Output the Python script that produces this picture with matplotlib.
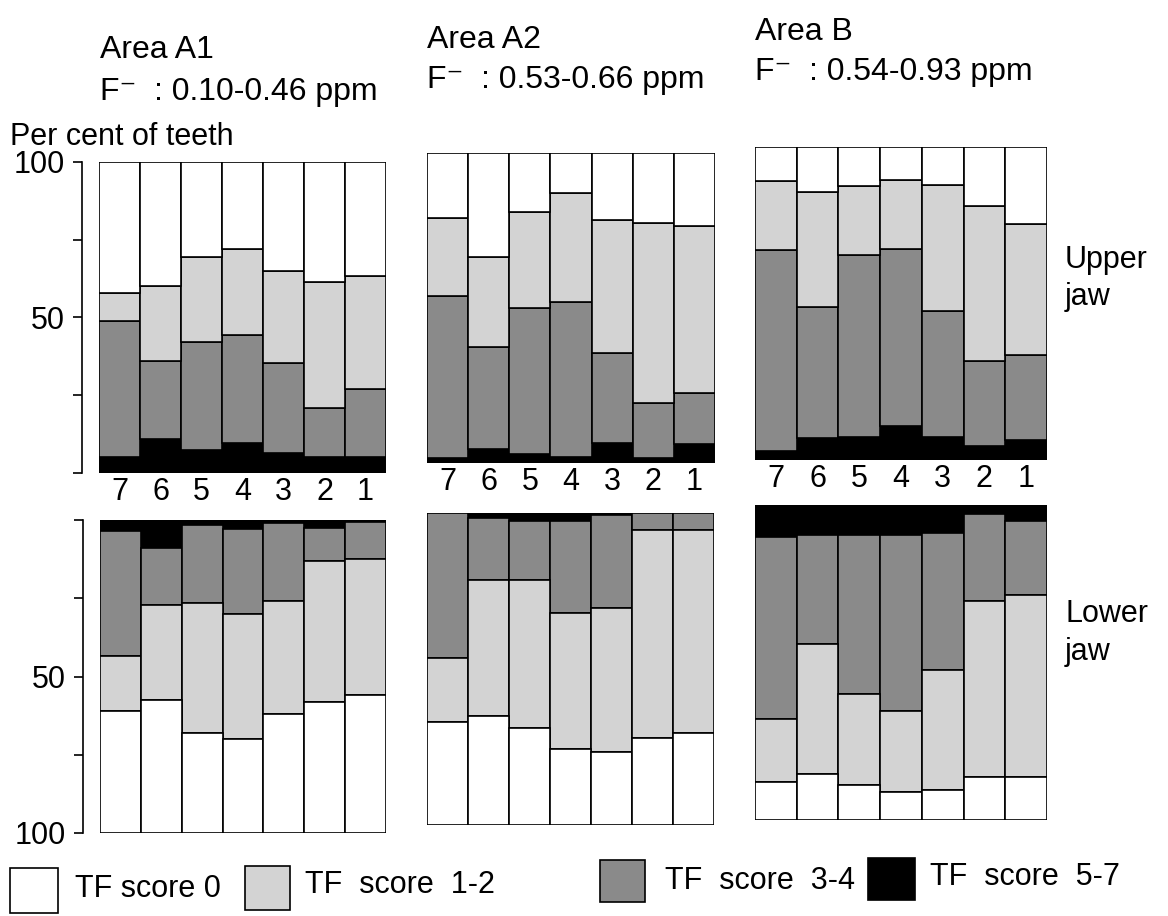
import matplotlib
matplotlib.use("Agg")
import matplotlib.pyplot as plt
from matplotlib.patches import Rectangle

plt.rcParams['font.family'] = ['Liberation Sans', 'DejaVu Sans']

W, H = 1168, 916

teeth = ['7', '6', '5', '4', '3', '2', '1']
categories = ['TF score 0', 'TF  score  1-2', 'TF  score  3-4', 'TF  score  5-7']
areas = ['Area A1', 'Area A2', 'Area B']
fluoride = ['F\u207b  : 0.10-0.46 ppm', 'F\u207b  : 0.53-0.66 ppm', 'F\u207b  : 0.54-0.93 ppm']

# Upper jaw, per cent of teeth per TF score group (teeth 7..1)
a1_up_s0 = [42, 40, 30.5, 28, 35, 38.5, 36.5]
a1_up_s12 = [9, 24, 27.5, 27.5, 29.5, 40.5, 36.5]
a1_up_s34 = [44, 25, 34.5, 35, 29, 16, 22]
a1_up_s57 = [5, 11, 7.5, 9.5, 6.5, 5, 5]

a2_up_s0 = [21, 33.5, 19, 13, 21.5, 22.5, 23.5]
a2_up_s12 = [25, 29, 31, 35, 43, 58, 54]
a2_up_s34 = [52.5, 33, 47, 50, 29, 18, 16.5]
a2_up_s57 = [1.5, 4.5, 3, 2, 6.5, 1.5, 6]

b_up_s0 = [11, 14.5, 12.5, 10.5, 12, 19, 24.5]
b_up_s12 = [22, 36.5, 22, 22, 40.5, 49.5, 42]
b_up_s34 = [64, 42, 58, 56.5, 40, 27, 27]
b_up_s57 = [3, 7, 7.5, 11, 7.5, 4.5, 6.5]

# Lower jaw
a1_lo_s0 = [39, 42.5, 32, 30, 38, 42, 44]
a1_lo_s12 = [17.5, 30.5, 41.5, 40, 36, 45, 43.5]
a1_lo_s34 = [40, 18, 25, 27, 25, 10.5, 12]
a1_lo_s57 = [3.5, 9, 1.5, 3, 1, 2.5, 0.5]

a2_lo_s0 = [33, 35, 31, 24.5, 23.5, 28, 29.5]
a2_lo_s12 = [20.5, 43.5, 47.5, 43.5, 46, 66.5, 65]
a2_lo_s34 = [46.5, 20, 19, 29.5, 30, 5.5, 5.5]
a2_lo_s57 = [0, 1.5, 2.5, 2.5, 0.5, 0, 0]

b_lo_s0 = [12, 14.5, 11, 9, 9.5, 13.5, 13.5]
b_lo_s12 = [20, 41.5, 29, 25.5, 38, 56, 58]
b_lo_s34 = [58, 34.5, 50.5, 56, 43.5, 27.5, 23.5]
b_lo_s57 = [10, 9.5, 9.5, 9.5, 9, 3, 5]

colors = ['white', '#d3d3d3', '#8a8a8a', 'black']

fig = plt.figure(figsize=(W / 100, H / 100), dpi=100)


def px_axes(x0, y0, x1, y1):
    return fig.add_axes([x0 / W, 1 - y1 / H, (x1 - x0) / W, (y1 - y0) / H])


def draw_panel(ax, s0, s12, s34, s57, upper, yaxis, labels):
    x = list(range(len(teeth)))
    bottom = [0] * len(teeth)
    for vals, col in zip([s57, s34, s12, s0], colors[::-1]):
        ax.bar(x, vals, width=1.0, bottom=bottom, color=col,
               edgecolor='black', linewidth=1.2)
        bottom = [b + v for b, v in zip(bottom, vals)]
    ax.set_xlim(-0.5, 6.5)
    if upper:
        ax.set_ylim(0, 100)
    else:
        ax.set_ylim(100, 0)
    for s in ['top', 'right', 'bottom']:
        ax.spines[s].set_visible(False)
    if labels:
        ax.set_xticks(x)
        ax.set_xticklabels(teeth, fontsize=22)
        ax.tick_params(axis='x', length=0, pad=3)
    else:
        ax.set_xticks([])
    if yaxis:
        ax.spines['left'].set_position(('outward', 12))
        ax.spines['left'].set_linewidth(1.2)
        ax.set_yticks([0, 25, 50, 75, 100])
        ax.set_yticklabels(['', '', '50', '', '100'], fontsize=22)
        ax.tick_params(axis='y', direction='out', length=6.5, width=1.2, pad=6)
    else:
        ax.spines['left'].set_visible(False)
        ax.set_yticks([])
    ax.patch.set_alpha(0)


upper_boxes = [(99, 162, 386, 473), (427, 153, 715, 463), (755, 147, 1047, 460)]
lower_boxes = [(100, 520, 386, 833), (427, 513, 714, 825), (755, 505, 1047, 820)]
upper_data = [(a1_up_s0, a1_up_s12, a1_up_s34, a1_up_s57),
              (a2_up_s0, a2_up_s12, a2_up_s34, a2_up_s57),
              (b_up_s0, b_up_s12, b_up_s34, b_up_s57)]
lower_data = [(a1_lo_s0, a1_lo_s12, a1_lo_s34, a1_lo_s57),
              (a2_lo_s0, a2_lo_s12, a2_lo_s34, a2_lo_s57),
              (b_lo_s0, b_lo_s12, b_lo_s34, b_lo_s57)]

for i in range(3):
    ax = px_axes(*upper_boxes[i])
    draw_panel(ax, *upper_data[i], upper=True, yaxis=(i == 0), labels=True)
    ax = px_axes(*lower_boxes[i])
    draw_panel(ax, *lower_data[i], upper=False, yaxis=(i == 0), labels=False)


def ftext(x, y, s, **kw):
    fig.text(x / W, 1 - y / H, s, **kw)


title_pos = [(100, 58, 100), (427, 48, 88), (755, 40, 80)]
for (tx, ty1, ty2), a, f in zip(title_pos, areas, fluoride):
    ftext(tx, ty1, a, fontsize=23, va='baseline')
    ftext(tx, ty2, f, fontsize=23, va='baseline')

ftext(10, 145, 'Per cent of teeth', fontsize=22, va='baseline')
ftext(1065, 268, 'Upper', fontsize=22, va='baseline')
ftext(1065, 305, 'jaw', fontsize=22, va='baseline')
ftext(1065, 622, 'Lower', fontsize=22, va='baseline')
ftext(1065, 660, 'jaw', fontsize=22, va='baseline')

# legend
leg_boxes = [(10, 868, 58, 913), (245, 866, 290, 910), (600, 860, 645, 902), (868, 858, 915, 900)]
leg_text = [(75, 897), (305, 893), (665, 889), (930, 885)]
for (x0, y0, x1, y1), (tx, ty), col, lab in zip(leg_boxes, leg_text, colors, categories):
    r = Rectangle((x0 / W, 1 - y1 / H), (x1 - x0) / W, (y1 - y0) / H,
                  transform=fig.transFigure, facecolor=col, edgecolor='black',
                  linewidth=1.2)
    fig.patches.append(r)
    ftext(tx, ty, lab, fontsize=22, va='baseline')

fig.savefig('out.png', dpi=100)
